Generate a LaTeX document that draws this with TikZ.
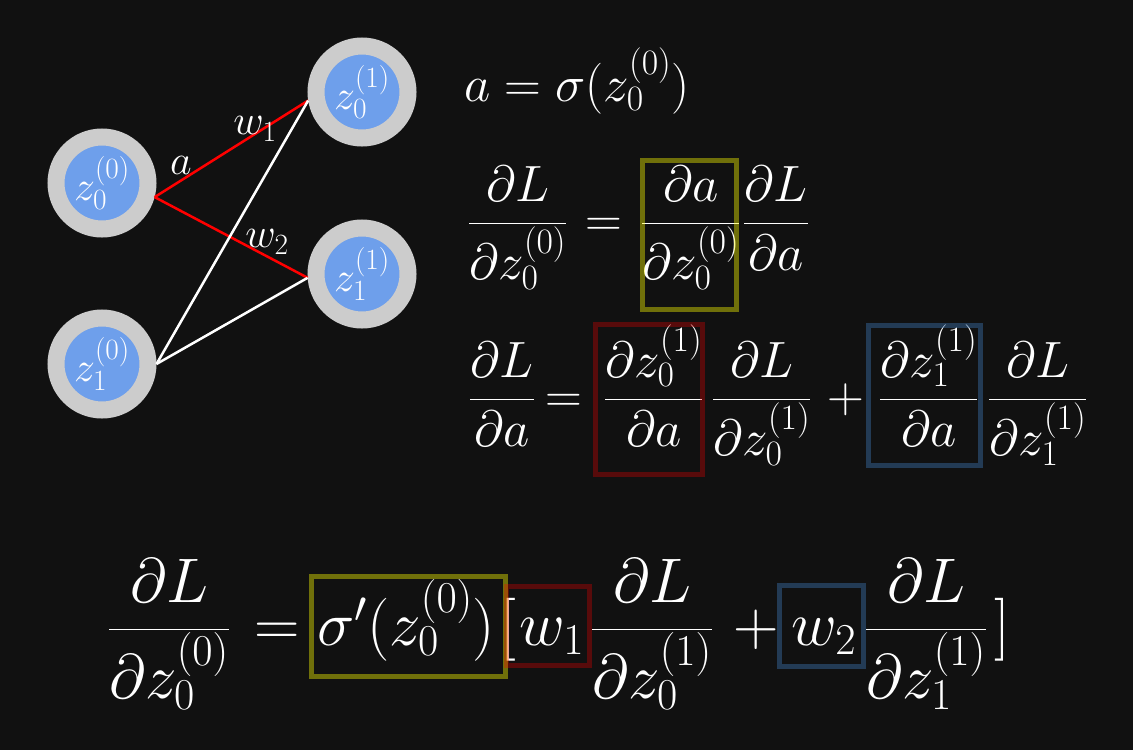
\RequirePackage{fix-cm}
\documentclass[tikz,border=0pt]{standalone}
\usepackage{amsmath}
\usepackage{xcolor}
\definecolor{Night}{HTML}{111111}
\definecolor{RingGray}{HTML}{CCCCCC}
\definecolor{CellBlue}{HTML}{6E9FEB}
\definecolor{LinkRed}{HTML}{FF0000}
\definecolor{MarkOlive}{HTML}{FFFF00}
\definecolor{MarkRed}{HTML}{FF0000}
\definecolor{MarkBlue}{HTML}{3E7ABB}
\usetikzlibrary{positioning}

\begin{document}
\begin{tikzpicture}[x=1pt, y=-1pt,
  neuron/.style={circle, fill=CellBlue, draw=RingGray, line width=17pt,
                 minimum size=92pt, inner sep=0pt, outer sep=8.5pt,
                 text=white, font=\fontsize{42}{50}\selectfont},
  wlbl/.style={text=white, inner sep=0pt, font=\fontsize{42}{50}\selectfont},
  eq/.style={text=white, inner sep=0pt, anchor=base west,
             font=\fontsize{51}{60}\selectfont},
  eqbig/.style={eq, font=\fontsize{63}{75}\selectfont},
  hlbox/.style={rectangle, draw, line width=5pt, inner sep=0pt},
  boxY/.style={hlbox, draw=MarkOlive, draw opacity=.4},
  boxR/.style={hlbox, draw=MarkRed, draw opacity=.3},
  boxB/.style={hlbox, draw=MarkBlue, draw opacity=.4},
  link/.style={line width=2.5pt, color=white},
  hot/.style={link, color=LinkRed}
]

%% ---- Canvas ----
\fill[Night] (0,0) rectangle (1133,750);
\useasboundingbox (0,0) rectangle (1133,750);

%% ---- Network: input layer (left), hidden layer (right) ----
\node[neuron] (z00) at (102,183) {$z_0^{(0)}$};
\node[neuron] (z10) at (102,364) {$z_1^{(0)}$};
\node[neuron] (z01) at (362, 92) {$z_0^{(1)}$};
\node[neuron] (z11) at (362,274) {$z_1^{(1)}$};

%% ---- Weights ----
\draw[hot]  (z00.-15) -- (z01.189);
\draw[hot]  (z00.-15) -- (z11.184);
\draw[link] (z10.east) -- (z01.189);
\draw[link] (z10.east) -- (z11.184);

\node[wlbl] (la) at (181,165) {$a$};
\node[wlbl] (lw1) at (255,129) {$w_1$};
\node[wlbl] (lw2) at (267,242) {$w_2$};

%% ---- a = sigma(z) ----
\node[eq] (e1) at (464,101) {$a = \sigma(z_0^{(0)})$};

%% ---- dL/dz = da/dz * dL/da ----
\node[eq] (e2l)  at (468,236) {$\dfrac{\partial L}{\partial z_0^{(0)}}$};
\node[eq] (e2eq) at (585,236) {$=$};
\node[eq] (e2a)  at (641,236) {$\dfrac{\partial a}{\partial z_0^{(0)}}$};
\node[eq] (e2r)  at (743,236) {$\dfrac{\partial L}{\partial a}$};

%% ---- dL/da = sum over both hidden units ----
\node[eq] (e3l)  at (469,412) {$\dfrac{\partial L}{\partial a}$};
\node[eq] (e3eq) at (545,412) {$=$};
\node[eq] (e3a)  at (604,412) {$\dfrac{\partial z_0^{(1)}}{\partial a}$};
\node[eq] (e3b)  at (712,412) {$\dfrac{\partial L}{\partial z_0^{(1)}}$};
\node[eq] (e3p)  at (827,412) {$+$};
\node[eq] (e3c)  at (879,412) {$\dfrac{\partial z_1^{(1)}}{\partial a}$};
\node[eq] (e3d)  at (988,412) {$\dfrac{\partial L}{\partial z_1^{(1)}}$};

%% ---- Result ----
\node[eqbig] (e4l)  at (108,645) {$\dfrac{\partial L}{\partial z_0^{(0)}}$};
\node[eqbig] (e4eq) at (254,645) {$=$};
\node[eqbig] (e4s)  at (317,645) {$\sigma'(z_0^{(0)})$};
\node[eqbig] (e4lb) at (500,645) {$[$};
\node[eqbig] (e4w1) at (519,645) {$w_1$};
\node[eqbig] (e4f1) at (591,645) {$\dfrac{\partial L}{\partial z_0^{(1)}}$};
\node[eqbig] (e4p)  at (733,645) {$+$};
\node[eqbig] (e4w2) at (791,645) {$w_2$};
\node[eqbig] (e4f2) at (865,645) {$\dfrac{\partial L}{\partial z_1^{(1)}}$};
\node[eqbig] (e4rb) at (994,645) {$]$};

%% ---- Highlight boxes (drawn over the text) ----
\node[boxY, minimum width=94.3pt, minimum height=149.6pt] (hl2)  at (689.7,235) {};
\node[boxR, minimum width=107.3pt, minimum height=150pt]  (hl3a) at (648.9,399.2) {};
\node[boxB, minimum width=112.3pt, minimum height=140.6pt] (hl3c) at (924.7,395.5) {};
\node[boxY, minimum width=194pt, minimum height=100pt]    (hl4s) at (408.8,626.5) {};
\node[boxR, minimum width=82.4pt, minimum height=79.3pt]  (hl4a) at (548,626.2) {};
\node[boxB, minimum width=83.4pt, minimum height=80.7pt]  (hl4b) at (821.5,626.2) {};

\end{tikzpicture}
\end{document}
